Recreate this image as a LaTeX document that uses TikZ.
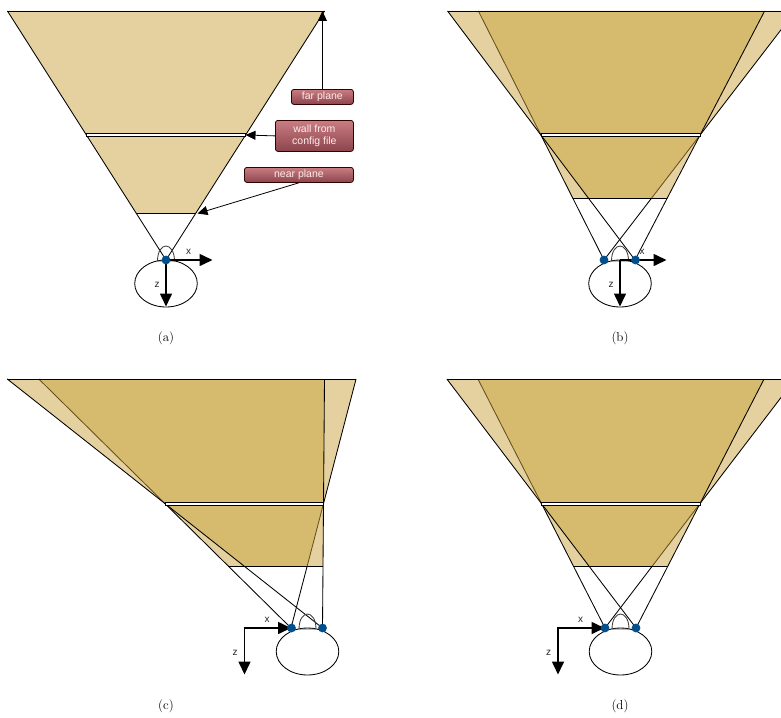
\documentclass[tikz,border=0pt]{standalone}
\usepackage{fontspec}
\setsansfont{Liberation Sans}
\usetikzlibrary{arrows.meta,calc}
\definecolor{frust}{RGB}{201,163,63}
\definecolor{eyeblue}{RGB}{0,80,143}
\definecolor{calloutTop}{RGB}{200,125,130}
\definecolor{calloutBot}{RGB}{140,68,76}
\tikzset{
  frustline/.style={draw=black,line width=0.85pt,line join=miter},
  frustfill/.style={fill=frust,fill opacity=0.5,draw=none},
  wallbar/.style={draw=black,fill=white,line width=0.8pt},
  headline/.style={draw=black,line width=0.85pt},
  axisarrow/.style={draw=black,line width=1.6pt,-{Triangle[length=13pt,width=12pt]}},
  callarrow/.style={draw=black,line width=0.8pt,-{Triangle[length=10pt,width=9pt]}},
  eyedot/.style={fill=eyeblue,draw=none},
  axislabel/.style={font=\sffamily\fontsize{10}{11}\selectfont,text=black!85,inner sep=0pt},
  callout/.style={draw=black!80!red,line width=0.8pt,rounded corners=2.5pt,top color=calloutTop,bottom color=calloutBot,
    font=\sffamily\fontsize{10.5}{12}\selectfont,text=white!92!red,align=center,inner sep=0pt,anchor=north west},
  caption/.style={font=\fontsize{13}{15}\selectfont,inner sep=0pt}
}
% eye x, eye y, wall left, wall right, wall top y, wall bottom y, near y, far y
\newcommand{\frustumshape}[8]{%
  \pgfmathsetmacro{\wc}{(#5+#6)/2}%
  \pgfmathsetmacro{\sl}{(#3-#1)/(#2-\wc)}%
  \pgfmathsetmacro{\sr}{(#4-#1)/(#2-\wc)}%
  \pgfmathsetmacro{\fl}{#1+\sl*(#2-#8)}\pgfmathsetmacro{\fr}{#1+\sr*(#2-#8)}%
  \pgfmathsetmacro{\tl}{#1+\sl*(#2-#5)}\pgfmathsetmacro{\tr}{#1+\sr*(#2-#5)}%
  \pgfmathsetmacro{\bl}{#1+\sl*(#2-#6)}\pgfmathsetmacro{\br}{#1+\sr*(#2-#6)}%
  \pgfmathsetmacro{\nl}{#1+\sl*(#2-#7)}\pgfmathsetmacro{\nr}{#1+\sr*(#2-#7)}%
  \path[frustfill] (\fl,#8)--(\fr,#8)--(\tr,#5)--(\tl,#5)--cycle;
  \path[frustfill] (\bl,#6)--(\br,#6)--(\nr,#7)--(\nl,#7)--cycle;
  \draw[frustline] (\nl,#7)--(\nr,#7);
  \draw[frustline] (\fl,#8)--(\fr,#8);
  \draw[frustline] (#1,#2)--(\fl,#8);
  \draw[frustline] (#1,#2)--(\fr,#8);
}
\newcommand{\wallbar}[4]{\draw[wallbar] (#1,#3) rectangle (#2,#4);}
% head: centre x, top y (nose base)
\newcommand{\headshape}[2]{%
  \draw[headline] (#1,#2+23.5) ellipse [x radius=31.3,y radius=23.5];
  \draw[headline,draw=black!75] (#1-8.5,#2+1) .. controls (#1-8.5,#2-9) and (#1-4,#2-14) .. (#1,#2-14)
     .. controls (#1+4,#2-14) and (#1+8.5,#2-9) .. (#1+8.5,#2+1) -- cycle;
}
\begin{document}
\begin{tikzpicture}[x=1pt,y=-1pt]
\useasboundingbox (0,0) rectangle (781,717);
\clip (0,0) rectangle (781,717);

% --- (a)
\frustumshape{166}{260}{86.5}{245.5}{133.5}{136.8}{213}{11}
\wallbar{86.5}{245.5}{133.5}{136.5}
\headshape{166}{260}
\coordinate (ao) at (166,260);
\draw[axisarrow] (ao) -- ++(46.5,0);
\draw[axisarrow] (ao) -- ++(0,46.5);
\fill[eyedot] (ao) circle (4.4);
\node[axislabel] (ax) at (188.5,252) {x};
\node[axislabel] (az) at (157,284.5) {z};
\coordinate (farpt) at (322,11);
\coordinate (wallpt) at (245.5,135);
\coordinate (nearpt) at (197.5,213.5);
\node[callout,minimum width=62pt,minimum height=15pt] (farbox) at (291,89) {far plane};
\node[callout,minimum width=78pt,minimum height=31pt] (wallbox) at (275,120) {wall from\\[-0.5pt]config file};
\node[callout,minimum width=109pt,minimum height=15pt] (nearbox) at (244,167) {near plane};
\draw[callarrow] (farbox.north) -- (farbox.north |- farpt);
\draw[callarrow] (wallbox.west) -- (wallpt);
\draw[callarrow] (nearbox.south) -- (nearpt);
\node[caption] (capa) at (166,338) {(a)};

% --- (b)
\frustumshape{604}{260}{541}{700}{133.5}{136.8}{198}{11}
\frustumshape{635}{260}{541}{700}{133.5}{136.8}{198}{11}
\wallbar{541}{700}{133.5}{136.5}
\headshape{620}{260}
\coordinate (bo) at (620,260);
\draw[axisarrow] (bo) -- ++(46.5,0);
\draw[axisarrow] (bo) -- ++(0,46.5);
\fill[eyedot] (604,260) circle (4.4);
\fill[eyedot] (635.5,260) circle (4.4);
\node[axislabel] (bx) at (642,252) {x};
\node[axislabel] (bz) at (611,284.5) {z};
\node[caption] (capb) at (620,338) {(b)};

% --- (c)
\frustumshape{291}{628}{165}{323.5}{502}{505.2}{566}{379}
\frustumshape{322.5}{628}{165}{323.5}{502}{505.2}{566}{379}
\wallbar{165}{323.5}{502}{505}
\headshape{307.5}{628}
\coordinate (co) at (244.5,628);
\draw[axisarrow] (co) -- ++(46.5,0);
\draw[axisarrow,shorten <=-0.8pt] (co) -- ++(0,46.5);
\fill[eyedot] (291.5,628) circle (4.4);
\fill[eyedot] (322.5,628) circle (4.4);
\node[axislabel] (cx) at (267,620) {x};
\node[axislabel] (cz) at (235,652.5) {z};
\node[caption] (capc) at (166,706) {(c)};

% --- (d)
\frustumshape{605}{628}{541.5}{700}{502}{505.2}{566}{379}
\frustumshape{636}{628}{541.5}{700}{502}{505.2}{566}{379}
\wallbar{541.5}{700}{502}{505}
\headshape{620.5}{628}
\coordinate (do) at (558,628);
\draw[axisarrow] (do) -- ++(46.5,0);
\draw[axisarrow,shorten <=-0.8pt] (do) -- ++(0,46.5);
\fill[eyedot] (605,628) circle (4.4);
\fill[eyedot] (636,628) circle (4.4);
\node[axislabel] (dx) at (580.5,620) {x};
\node[axislabel] (dz) at (548.5,652.5) {z};
\node[caption] (capd) at (620,706) {(d)};
\end{tikzpicture}
\end{document}
